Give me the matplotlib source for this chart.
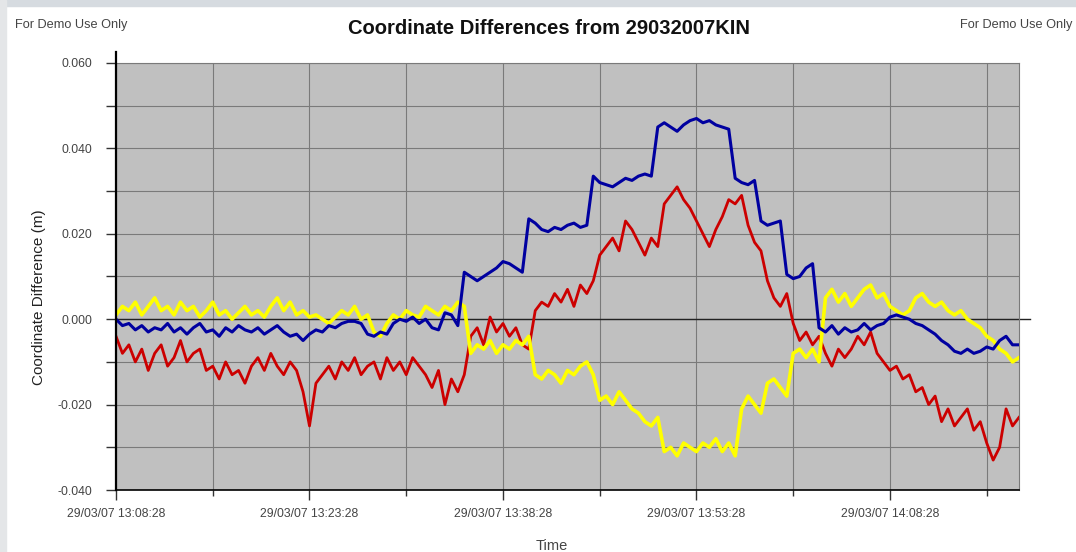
import matplotlib
matplotlib.use('Agg')
import matplotlib.pyplot as plt
import matplotlib.dates as mdates
import pandas as pd
from matplotlib.ticker import FixedLocator, FuncFormatter

plt.rcParams['font.family'] = ['Liberation Sans', 'DejaVu Sans']

# --- Coordinate differences, one value every 30 s from 13:08:28 (millimetres) ---
start = '2007-03-29 13:08:28'
times = pd.date_range(start, periods=141, freq='30s')

blue_mm = [
    0, -1.5, -1, -2.5, -1.5, -3, -2, -2.5, -1, -3,
    -2, -3.5, -2, -1, -3, -2.5, -4, -2, -3, -1.5,
    -2.5, -3, -2, -3.5, -2.5, -1.5, -3, -4, -3.5, -5,
    -3.5, -2.5, -3, -1.5, -2, -1, -0.5, -0.5, -1, -3.5,
    -4, -3, -3.5, -1, 0, -0.5, 0.5, -1, 0, -2,
    -2.5, 1.5, 1, -1.5, 11, 10, 9, 10, 11, 12,
    13.5, 13, 12, 11, 23.5, 22.5, 21, 20.5, 21.5, 21,
    22, 22.5, 21.5, 22, 33.5, 32, 31.5, 31, 32, 33,
    32.5, 33.5, 34, 33.5, 45, 46, 45, 44, 45.5, 46.5,
    47, 46, 46.5, 45.5, 45, 44.5, 33, 32, 31.5, 32.5,
    23, 22, 22.5, 23, 10.5, 9.5, 10, 12, 13, -2,
    -3, -1.5, -3.5, -2, -3, -2.5, -1, -2.5, -1.5, -1,
    0.5, 1, 0.5, 0, -1, -1.5, -2.5, -3.5, -5, -6,
    -7.5, -8, -7, -8, -7.5, -6.5, -7, -5, -4, -6,
    -6,
]

red_mm = [
    -4, -8, -6, -10, -7, -12, -8, -6, -11, -9,
    -5, -10, -8, -7, -12, -11, -14, -10, -13, -12,
    -15, -11, -9, -12, -8, -11, -13, -10, -12, -17,
    -25, -15, -13, -11, -14, -10, -12, -9, -13, -11,
    -10, -14, -9, -12, -10, -13, -9, -11, -13, -16,
    -12, -20, -14, -17, -13, -4, -2, -6, 0.5, -3,
    -1, -4, -2, -6, -7, 2, 4, 3, 6, 4,
    7, 3, 8, 6, 9, 15, 17, 19, 16, 23,
    21, 18, 15, 19, 17, 27, 29, 31, 28, 26,
    23, 20, 17, 21, 24, 28, 27, 29, 22, 18,
    16, 9, 5, 3, 6, -1, -5, -3, -6, -4,
    -8, -11, -7, -9, -7, -4, -6, -3, -8, -10,
    -12, -11, -14, -13, -17, -16, -20, -18, -24, -21,
    -25, -23, -21, -26, -24, -29, -33, -30, -21, -25,
    -23,
]

yellow_mm = [
    1, 3, 2, 4, 1, 3, 5, 2, 3, 1,
    4, 2, 3, 0.5, 2, 4, 1, 2, 0, 1.5,
    3, 1, 2, 0.5, 3, 5, 2, 4, 1, 2,
    0.5, 1, 0, -1, 0.5, 2, 1, 3, 0, 1,
    -3, -4, -1, 1, 0, 2, 1, 0.5, 3, 2,
    1, 3, 2, 4, 3, -8, -6, -7, -5, -8,
    -6, -7, -5, -6, -4, -13, -14, -12, -13, -15,
    -12, -13, -11, -10, -13, -19, -18, -20, -17, -19,
    -21, -22, -24, -25, -23, -31, -30, -32, -29, -30,
    -31, -29, -30, -28, -31, -29, -32, -21, -18, -20,
    -22, -15, -14, -16, -18, -8, -7, -9, -7, -10,
    5, 7, 4, 6, 3, 5, 7, 8, 5, 6,
    3, 2, 1, 2, 5, 6, 4, 3, 4, 2,
    1, 2, 0, -1, -2, -4, -5, -7, -8, -10,
    -9,
]

# labelled ticks every 15 min, grid every 7.5 min
major_times = pd.date_range(start, periods=5, freq='15min')
minor_times = pd.date_range('2007-03-29 13:15:58', periods=5, freq='15min')
end_time = pd.Timestamp('2007-03-29 14:18:28')

fig = plt.figure(figsize=(10.76, 5.52), dpi=100)
ax = fig.add_axes([0.1078, 0.1123, 0.8392, 0.7736])
ax.set_facecolor('#c0c0c0')

to_m = lambda v: [x / 1000.0 for x in v]
ax.plot(times, to_m(red_mm), color='#cc0000', linewidth=2.0, zorder=3)
ax.plot(times, to_m(yellow_mm), color='#ffff00', linewidth=2.6, zorder=4)
ax.plot(times, to_m(blue_mm), color='#0000a0', linewidth=2.2, zorder=5)

ax.set_xlim(times[0], end_time)
ax.set_ylim(-0.040, 0.060)

# y axis: labels every 0.02, grid every 0.01
ax.yaxis.set_major_locator(FixedLocator([-0.04, -0.02, 0.0, 0.02, 0.04, 0.06]))
ax.yaxis.set_minor_locator(FixedLocator([-0.03, -0.01, 0.01, 0.03, 0.05]))
ax.yaxis.set_major_formatter(FuncFormatter(lambda v, p: '%.3f' % v))

ax.xaxis.set_major_locator(FixedLocator(mdates.date2num(major_times)))
ax.xaxis.set_minor_locator(FixedLocator(mdates.date2num(minor_times)))
ax.xaxis.set_major_formatter(mdates.DateFormatter('%d/%m/%y %H:%M:%S'))

ax.grid(True, which='both', color='#7a7a7a', linewidth=0.8, zorder=1)
ax.set_axisbelow(True)

ax.tick_params(axis='both', which='both', direction='out', colors='#333333',
               labelsize=8.8, labelcolor='#444444')
ax.tick_params(axis='y', which='both', length=7, width=1, pad=10)
ax.tick_params(axis='x', which='major', length=7, width=1, pad=6)
ax.tick_params(axis='x', which='minor', length=4, width=1)

# frame: black left/bottom, grey top/right, black zero line
for side in ('top', 'right'):
    ax.spines[side].set_color('#7a7a7a')
ax.spines['bottom'].set_color('black')
ax.spines['bottom'].set_linewidth(1.2)
ax.spines['left'].set_visible(False)
ax.plot([0, 0], [0, 1.025], transform=ax.transAxes, color='black',
        linewidth=1.6, clip_on=False, zorder=6)
ax.plot([0, 1.012], [0.4, 0.4], transform=ax.transAxes, color='#222222',
        linewidth=1.0, clip_on=False, zorder=2)

ax.set_ylabel('Coordinate Difference (m)', fontsize=11, color='#222222')
ax.yaxis.set_label_coords(-0.077, 0.452)

fig.text(0.513, 0.011, 'Time', fontsize=10.5, color='#444444', ha='center', va='center')
fig.text(0.510, 0.949, 'Coordinate Differences from 29032007KIN',
         fontsize=14.5, fontweight='bold', ha='center', va='center', color='#111111')
fig.text(0.014, 0.955, 'For Demo Use Only', fontsize=9.2, color='#444444',
         ha='left', va='center')
fig.text(0.997, 0.955, 'For Demo Use Only', fontsize=9.2, color='#444444',
         ha='right', va='center')

# thin window edge along the top and left
fig.patches.append(plt.Rectangle((0, 0.99), 1, 0.01, transform=fig.transFigure,
                                 color='#d6dbe0', zorder=0))
fig.patches.append(plt.Rectangle((0, 0), 0.006, 1, transform=fig.transFigure,
                                 color='#e4e6e8', zorder=0))

fig.savefig('out.png', dpi=100)
